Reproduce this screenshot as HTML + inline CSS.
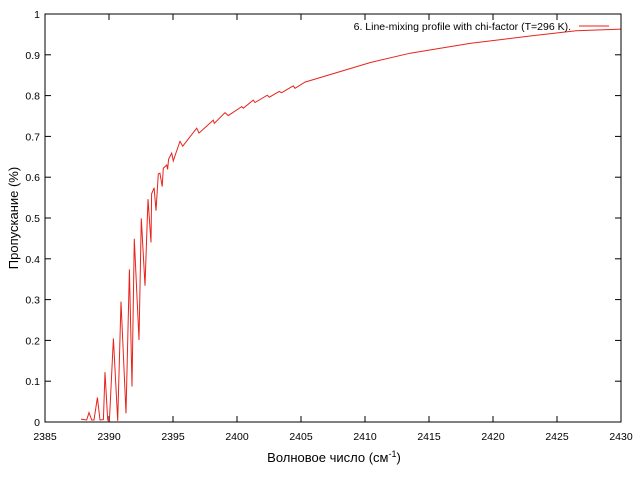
<!DOCTYPE html>
<html><head><meta charset="utf-8"><style>
body{margin:0;background:#fff}
svg{display:block;font-family:"Liberation Sans","DejaVu Sans",sans-serif}
</style></head><body>
<svg id="chart" width="640" height="480" viewBox="0 0 640 480" xmlns="http://www.w3.org/2000/svg">
<rect x="0" y="0" width="640" height="480" fill="#fff"/>
<g id="ticks"></g>
<path id="series" fill="none" stroke="#e8231c" stroke-width="1"/>
<rect x="45" y="14" width="576" height="408" fill="none" stroke="#000" stroke-width="1"/>
<g>
<text x="571" y="30" font-size="10.5" text-anchor="end" fill="#000">6. Line-mixing profile with chi-factor (T=296 K).</text>
<line x1="579" y1="26" x2="609" y2="26" stroke="#e8231c" stroke-width="1"/>
</g>
<text x="334" y="462" font-size="13" text-anchor="middle">Волновое число (см<tspan baseline-shift="super" font-size="9">-1</tspan>)</text>
<text transform="translate(18,218) rotate(-90)" font-size="13" text-anchor="middle">Пропускание (%)</text>
</svg>
<script>
const xs=[2387.81,2388.26,2388.44,2388.65,2388.83,2389.09,2389.30,2389.56,2389.69,2389.90,2390.03,2390.34,2390.68,2390.94,2391.33,2391.59,2391.80,2391.98,2392.34,2392.52,2392.81,2393.05,2393.28,2393.33,2393.52,2393.67,2393.85,2393.98,2394.16,2394.24,2394.51,2394.58,2394.66,2394.90,2395.02,2395.23,2395.55,2395.76,2396.85,2397.03,2398.15,2398.23,2399.06,2399.32,2400.37,2400.49,2401.27,2401.41,2402.37,2402.52,2403.30,2403.49,2404.40,2404.53,2405.31,2408.6,2410.39,2413.52,2418.2,2422.9,2426.5,2430];
const ys=[0.007,0.005,0.023,0.005,0.005,0.06,0.005,0.006,0.122,0.005,0.003,0.205,0.003,0.295,0.021,0.374,0.087,0.449,0.201,0.499,0.334,0.546,0.440,0.559,0.574,0.518,0.608,0.610,0.577,0.622,0.630,0.619,0.644,0.659,0.640,0.659,0.688,0.676,0.720,0.708,0.740,0.732,0.758,0.751,0.773,0.769,0.789,0.783,0.801,0.796,0.810,0.807,0.824,0.818,0.833,0.864,0.881,0.904,0.928,0.946,0.959,0.963];
const xTicks=[2385,2390,2395,2400,2405,2410,2415,2420,2425,2430];
const yTicks=[0,0.1,0.2,0.3,0.4,0.5,0.6,0.7,0.8,0.9,1];
const yTickLabels=["0","0.1","0.2","0.3","0.4","0.5","0.6","0.7","0.8","0.9","1"];
const X=v=>45+(v-2385)/45*576, Y=v=>422-v*408;
const NS="http://www.w3.org/2000/svg";
const g=document.getElementById('ticks');
function mk(t,a){const e=document.createElementNS(NS,t);for(const k in a)e.setAttribute(k,a[k]);g.appendChild(e);return e;}
xTicks.forEach(v=>{
 const l1=mk('line',{x1:X(v),x2:X(v),y1:422,y2:416,stroke:'#000'});
 
 
 const l2=mk('line',{x1:X(v),x2:X(v),y1:14,y2:20,stroke:'#000'});
 
 
 const t=mk('text',{x:X(v),y:440,'font-size':'10.5','text-anchor':'middle'});
 t.textContent=v;
 
 
});
yTicks.forEach((v,i)=>{
 const l1=mk('line',{x1:45,x2:51,y1:Y(v),y2:Y(v),stroke:'#000'});
 
 
 const l2=mk('line',{x1:615,x2:621,y1:Y(v),y2:Y(v),stroke:'#000'});
 
 
 const t=mk('text',{x:40,y:Y(v)+4,'font-size':'10.5','text-anchor':'end'});
 t.textContent=yTickLabels[i];
 
 
});
document.getElementById('series').setAttribute('d',xs.map((x,i)=>(i?'L':'M')+X(x).toFixed(1)+','+Y(ys[i]).toFixed(1)).join(''));
</script>
</body></html>
